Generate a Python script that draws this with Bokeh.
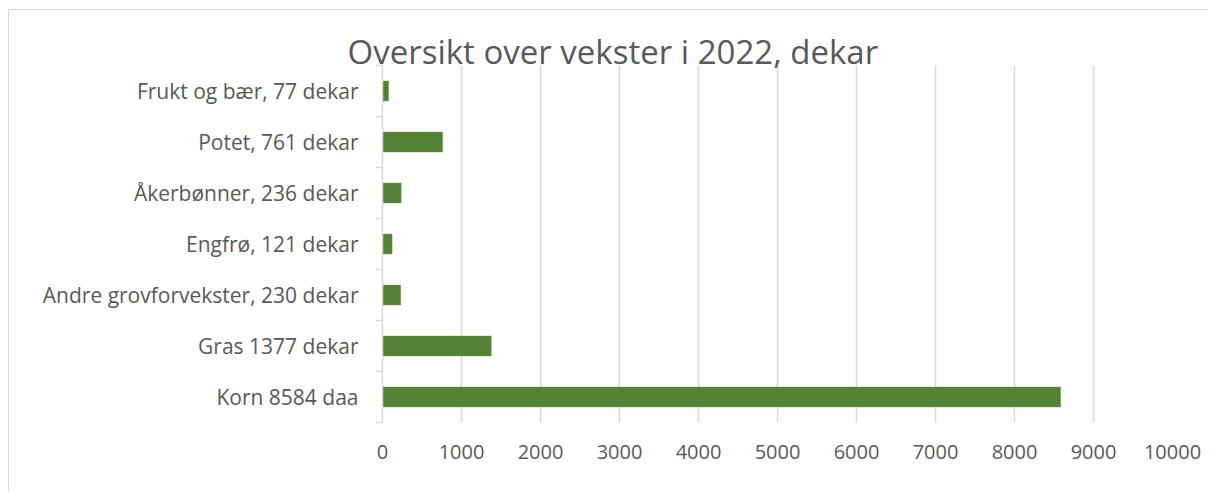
from bokeh.plotting import figure
from bokeh.models import Range1d, FixedTicker
from bokeh.embed import file_html
from bokeh.resources import INLINE

# data (bottom to top)
categories = ["Korn 8584 daa", "Gras 1377 dekar", "Andre grovforvekster, 230 dekar",
              "Engfrø, 121 dekar", "Åkerbønner, 236 dekar", "Potet, 761 dekar",
              "Frukt og bær, 77 dekar"]
values = [8584, 1377, 230, 121, 236, 761, 77]
x_ticks = [0, 1000, 2000, 3000, 4000, 5000, 6000, 7000, 8000, 9000, 10000]
title_text = "Oversikt over vekster i 2022, dekar"

n = len(categories)
centers = [i + 0.5 for i in range(n)]
bounds = list(range(n + 1))

TXT = "#595959"
GRID = "#d9d9d9"
FONT = "Open Sans"

p = figure(frame_width=790, frame_height=357,
           min_border_left=373, min_border_right=35,
           min_border_top=55, min_border_bottom=69,
           x_range=Range1d(0, 10000), y_range=Range1d(0, n),
           output_backend="svg", toolbar_location=None,
           background_fill_color="white", border_fill_color="white")
p.margin = (9, 0, 0, 8)
p.styles = {"border-left": "1px solid #d9d9d9", "border-top": "1px solid #d9d9d9"}

p.hbar(y=centers, right=values, left=0, height=0.39,
       fill_color="#548235", line_color="#6a9a4a", line_width=0.5)

p.title.text = title_text
p.title.text_font = FONT
p.title.text_font_size = "33px"
p.title.text_font_style = "normal"
p.title.text_color = TXT
p.title.align = "left"
p.title.offset = -35
p.title.standoff = -16

p.outline_line_color = None
p.ygrid.grid_line_color = None
p.xgrid.grid_line_color = GRID
p.xgrid.grid_line_width = 1.5

xa = p.xaxis[0]
xa.ticker = FixedTicker(ticks=x_ticks)
xa.axis_line_color = None
xa.major_tick_line_color = None
xa.minor_tick_line_color = None
xa.major_label_text_font = FONT
xa.major_label_text_font_size = "20px"
xa.major_label_text_color = TXT
xa.major_label_standoff = 16

ya = p.yaxis[0]
ya.ticker = FixedTicker(ticks=centers, minor_ticks=bounds)
ya.major_label_overrides = {c: lab for c, lab in zip(centers, categories)}
ya.axis_line_color = GRID
ya.axis_line_width = 1.5
ya.major_tick_line_color = None
ya.major_tick_out = 0
ya.major_tick_in = 0
ya.minor_tick_line_color = GRID
ya.minor_tick_line_width = 1.5
ya.minor_tick_out = 7
ya.minor_tick_in = 0
ya.major_label_text_font = FONT
ya.major_label_text_font_size = "21px"
ya.major_label_text_color = TXT
ya.major_label_standoff = 17

open("out.html", "w").write(file_html(p, INLINE))
